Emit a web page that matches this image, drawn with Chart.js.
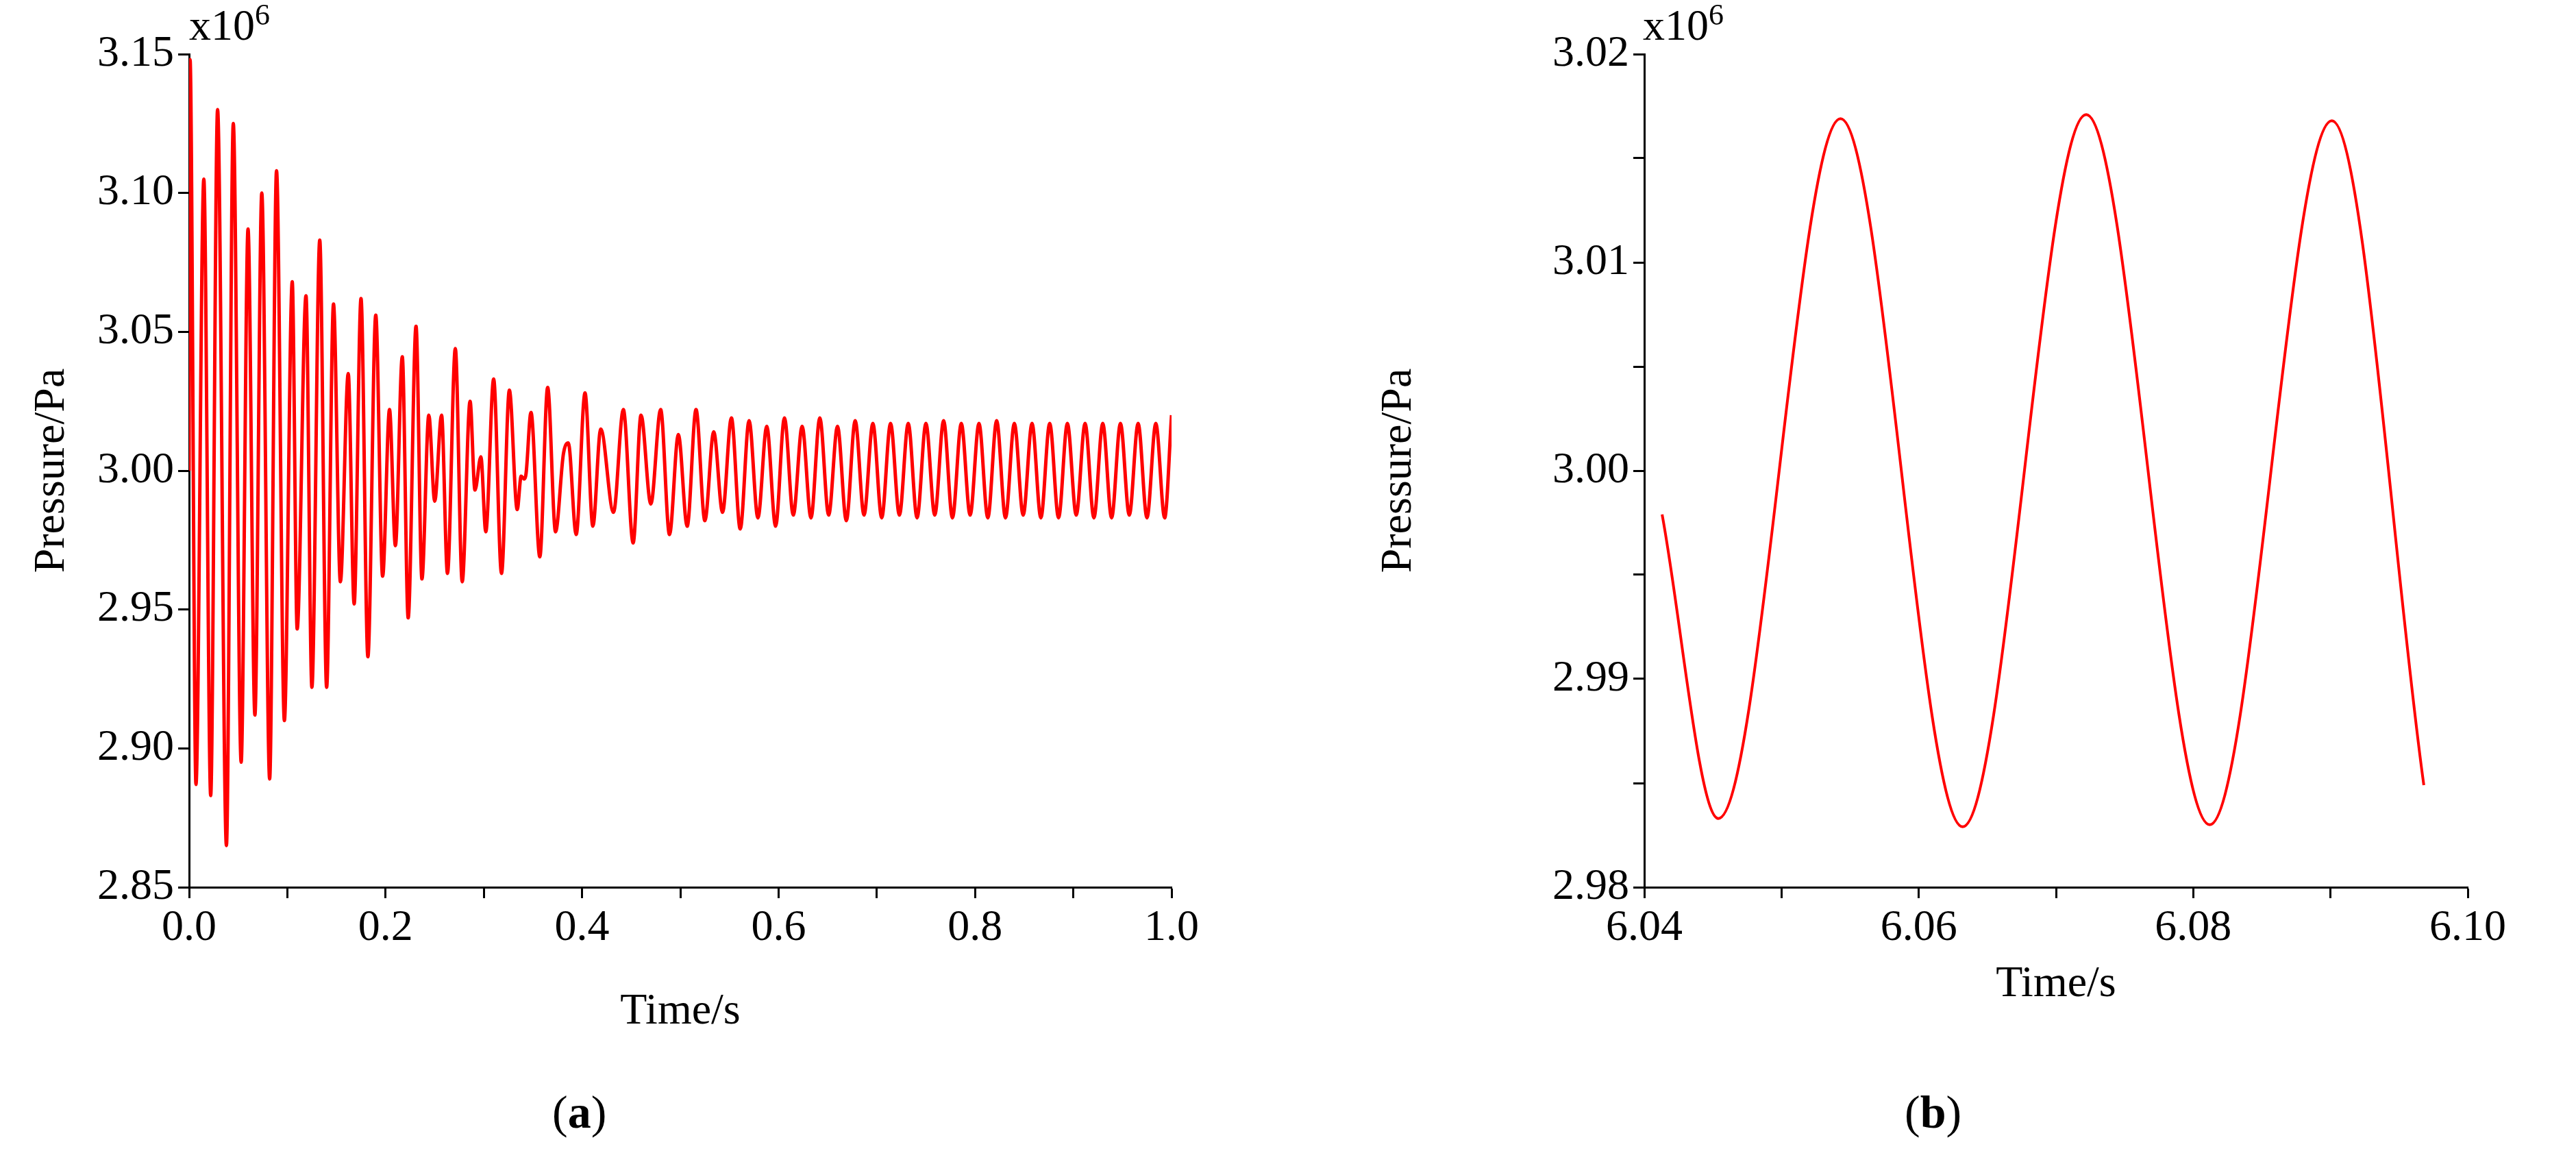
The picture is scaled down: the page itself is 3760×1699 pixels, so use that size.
<!DOCTYPE html>
<html>
<head>
<meta charset="utf-8">
<script src="https://cdn.jsdelivr.net/npm/chart.js@4.4.1/dist/chart.umd.min.js"></script>
<style>
  body { margin: 0; background: #fff; width: 3760px; height: 1699px; position: relative; overflow: hidden; font-family: "Liberation Serif", serif; }
  canvas { position: absolute; }
  .lbl { position: absolute; font-size: 64px; color: #000; white-space: nowrap; }
  .cap { position: absolute; font-size: 68px; color: #000; }
</style>
</head>
<body>
<div style="position:absolute;left:0;top:0;width:1760px;height:1520px"><canvas id="chartA"></canvas></div>
<div style="position:absolute;left:2004px;top:0;width:1660px;height:1480px"><canvas id="chartB"></canvas></div>
<div class="lbl" style="left:276px;top:-4px">x10<sup style="font-size:44px">6</sup></div>
<div class="lbl" style="left:2398px;top:-4px">x10<sup style="font-size:44px">6</sup></div>
<div class="cap" style="left:806px;top:1584px">(<b>a</b>)</div>
<div class="cap" style="left:2780px;top:1584px">(<b>b</b>)</div>
<script>
// (a) extrema, time in s, pressure in 1e6 Pa
const timeA = [0, 0.001, 0.007, 0.015, 0.022, 0.029, 0.038, 0.045, 0.053, 0.060, 0.067, 0.074, 0.082, 0.089, 0.097,
  0.105, 0.110, 0.119, 0.125, 0.133, 0.140, 0.147, 0.154, 0.162, 0.168, 0.175, 0.182, 0.190, 0.197, 0.204, 0.210,
  0.217, 0.223, 0.231, 0.237, 0.244, 0.250, 0.257, 0.263, 0.271, 0.278, 0.286, 0.291, 0.297, 0.302, 0.310, 0.318,
  0.326, 0.334, 0.338, 0.341, 0.343, 0.348, 0.357, 0.365, 0.373, 0.381, 0.386, 0.394, 0.403, 0.411, 0.419, 0.432,
  0.442, 0.452, 0.460, 0.470, 0.480, 0.489, 0.498, 0.507, 0.516, 0.525, 0.534, 0.543, 0.552, 0.561, 0.570, 0.579,
  0.588, 0.597, 0.606, 0.615, 0.624, 0.633, 0.642, 0.651, 0.660, 0.669, 0.678, 0.687, 0.696, 0.705, 0.714, 0.723,
  0.732, 0.741, 0.750, 0.759, 0.768, 0.777, 0.786, 0.795, 0.804, 0.813, 0.822, 0.831, 0.840, 0.849, 0.858, 0.867,
  0.876, 0.885, 0.894, 0.903, 0.912, 0.921, 0.930, 0.939, 0.948, 0.957, 0.966, 0.975, 0.984, 0.993, 1.000];
const pressureA = [3.000, 3.148, 2.887, 3.105, 2.883, 3.130, 2.865, 3.125, 2.895, 3.087, 2.912, 3.100, 2.889, 3.108, 2.910,
  3.068, 2.943, 3.063, 2.922, 3.083, 2.922, 3.060, 2.960, 3.035, 2.952, 3.062, 2.933, 3.056, 2.962, 3.022, 2.973,
  3.041, 2.947, 3.052, 2.961, 3.020, 2.989, 3.020, 2.963, 3.044, 2.960, 3.025, 2.993, 3.005, 2.978, 3.033, 2.963,
  3.029, 2.986, 2.998, 2.997, 2.999, 3.021, 2.969, 3.030, 2.978, 3.006, 3.010, 2.977, 3.028, 2.980, 3.015, 2.985,
  3.022, 2.974, 3.020, 2.988, 3.022, 2.977, 3.013, 2.980, 3.022, 2.982, 3.014, 2.985, 3.019, 2.979, 3.018, 2.983,
  3.016, 2.980, 3.019, 2.984, 3.016, 2.983, 3.019, 2.984, 3.016, 2.982, 3.018, 2.984, 3.017, 2.983, 3.017, 2.984,
  3.017, 2.983, 3.017, 2.984, 3.018, 2.983, 3.017, 2.984, 3.017, 2.983, 3.018, 2.983, 3.017, 2.984, 3.017, 2.983,
  3.017, 2.983, 3.017, 2.984, 3.017, 2.983, 3.017, 2.983, 3.017, 2.984, 3.017, 2.983, 3.017, 2.983, 3.020];

// (b) zoomed window
const timeB = [6.0413, 6.0454, 6.0543, 6.0632, 6.0722, 6.0812, 6.0901, 6.0968];
const pressureB = [2.9979, 2.9833, 3.0169, 2.9829, 3.0171, 2.9830, 3.0168, 2.9849];

const FONT = "Liberation Serif";

function pts(xs, ys) {
  return xs.map((x, i) => ({ x: x, y: ys[i] }));
}

function axis(min, max, step, majorEvery, digits, title, titlePad) {
  return {
    type: "linear",
    min: min,
    max: max,
    border: { color: "#000", width: 3 },
    grid: { drawOnChartArea: false, drawTicks: true, tickLength: 16, tickWidth: 3, tickColor: "#000" },
    ticks: {
      stepSize: step,
      color: "#000",
      font: { family: FONT, size: 64 },
      padding: 6,
      maxRotation: 0,
      autoSkip: false,
      callback: function(v) {
        const k = Math.round((v - min) / step);
        return k % majorEvery === 0 ? v.toFixed(digits) : "";
      }
    },
    title: { display: true, text: title, color: "#000", font: { family: FONT, size: 64 }, padding: titlePad }
  };
}

function makeChart(id, xs, ys, width, xCfg, yCfg, yw, xh, padRight) {
  yCfg.afterFit = s => { s.width = yw; };
  xCfg.afterFit = s => { s.height = xh; };
  new Chart(document.getElementById(id), {
    type: "scatter",
    data: {
      datasets: [{
        data: pts(xs, ys),
        showLine: true,
        borderColor: "#ff0000",
        borderWidth: width,
        pointRadius: 0,
        cubicInterpolationMode: "monotone"
      }]
    },
    options: {
      responsive: true,
      maintainAspectRatio: false,
      animation: false,
      layout: { padding: { top: 79, right: padRight, left: 0, bottom: 0 } },
      plugins: { legend: { display: false }, tooltip: { enabled: false } },
      scales: { x: xCfg, y: yCfg }
    }
  });
}

makeChart("chartA", timeA, pressureA, 5,
  axis(0, 1, 0.1, 2, 1, "Time/s", { top: 40 }),
  axis(2.85, 3.15, 0.05, 1, 2, "Pressure/Pa", { top: 38, bottom: 4 }),
  276, 225, 50);

makeChart("chartB", timeB, pressureB, 4,
  axis(6.04, 6.10, 0.01, 2, 2, "Time/s", { top: 0 }),
  axis(2.98, 3.02, 0.005, 2, 2, "Pressure/Pa", { top: 0, bottom: 4 }),
  396, 185, 60);
</script>
</body>
</html>
